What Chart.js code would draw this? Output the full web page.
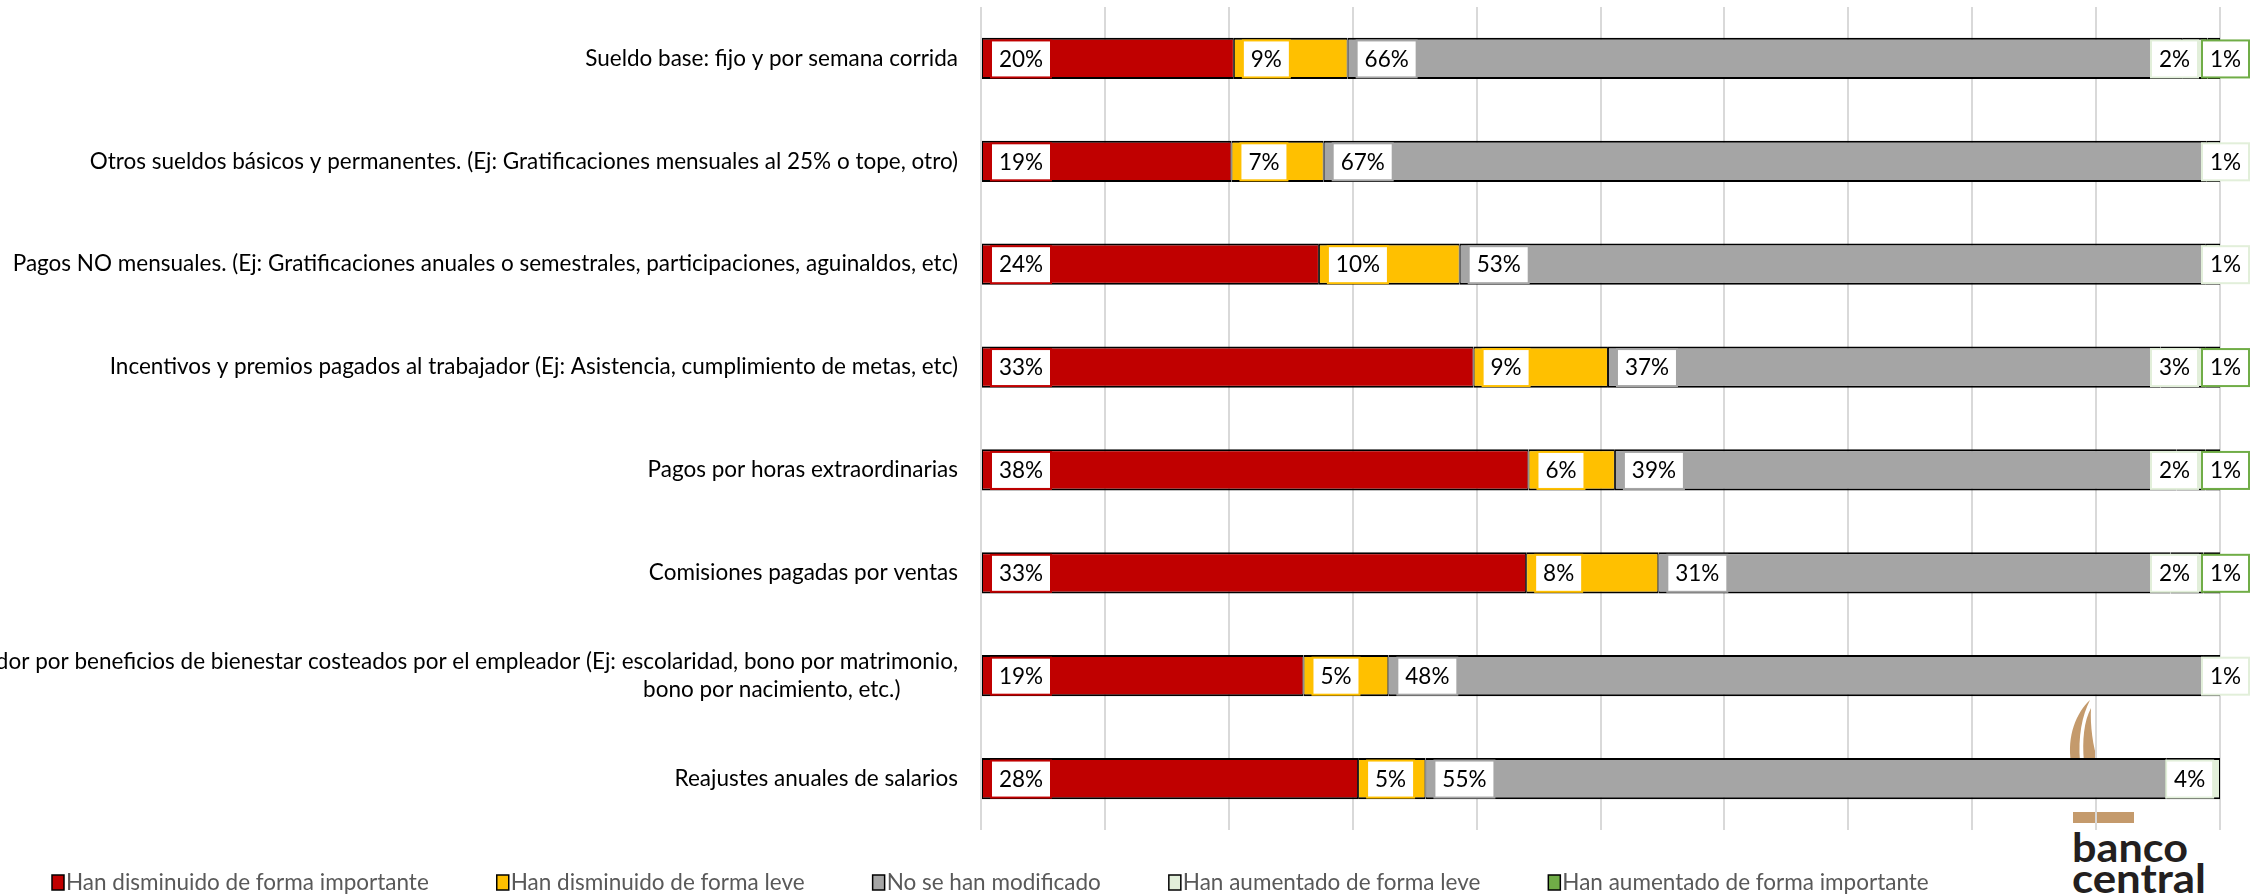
<!DOCTYPE html>
<html lang="es">
<head>
<meta charset="utf-8">
<title>Cambios en las remuneraciones</title>
<script src="https://cdn.jsdelivr.net/npm/chart.js@4.4.1/dist/chart.umd.min.js"></script>
<style>
  html, body { margin: 0; padding: 0; background: #fff; }
  #wrap { position: relative; width: 2250px; height: 894px; overflow: hidden; }
  #logo { position: absolute; left: 0; top: 0; z-index: 0; }
  #chart { position: absolute; left: 0; top: 0; z-index: 1; }
</style>
</head>
<body>
<div id="wrap">
  <!-- logo sits behind the canvas, like in the original slide -->
  <svg id="logo" width="2250" height="894">
    <path d="M2071,762 C2067,736 2076,713 2090,700 C2082,716 2078,736 2080,762 Z" fill="#C49A6C"/>
    <path d="M2084,762 C2082,740 2084,721 2091,708 C2090,726 2093,746 2098,762 Z" fill="#C49A6C"/>
    <rect x="2073" y="812" width="61" height="11" fill="#C49A6C"/>
    <text x="2072" y="862" font-family="Lato" font-weight="700" font-size="40" fill="#231F20" textLength="116" lengthAdjust="spacingAndGlyphs">banco</text>
    <text x="2072" y="893" font-family="Lato" font-weight="700" font-size="40" fill="#231F20" textLength="134" lengthAdjust="spacingAndGlyphs">central</text>
  </svg>
  <canvas id="chart" width="2250" height="894"></canvas>
</div>
<script>
// Categories (top to bottom)
const categories = [
  "Sueldo base: fijo y por semana corrida",
  "Otros sueldos básicos y permanentes. (Ej: Gratificaciones mensuales al 25% o tope, otro)",
  "Pagos NO mensuales. (Ej: Gratificaciones anuales o semestrales, participaciones, aguinaldos, etc)",
  "Incentivos y premios pagados al trabajador (Ej: Asistencia, cumplimiento de metas, etc)",
  "Pagos por horas extraordinarias",
  "Comisiones pagadas por ventas",
  ["Pagos al trabajador por beneficios de bienestar costeados por el empleador (Ej: escolaridad, bono por matrimonio,",
   "bono por nacimiento, etc.)          "],
  "Reajustes anuales de salarios"
];

const seriesNames = [
  "Han disminuido de forma importante",
  "Han disminuido de forma leve",
  "No se han modificado",
  "Han aumentado de forma leve",
  "Han aumentado de forma importante"
];

// % of answers per category (as labelled)
const impDown  = [20, 19, 24, 33, 38, 33, 19, 28];
const leveDown = [9, 7, 10, 9, 6, 8, 5, 5];
const noChange = [66, 67, 53, 37, 39, 31, 48, 55];
const leveUp   = [2, 1, 1, 3, 2, 2, 1, 4];
const impUp    = [1, 0, 0, 1, 1, 1, 0, 0];

const colors = ["#C00000", "#FFC000", "#A5A5A5", "#E2EFDA", "#70AD47"];

const FONT_SIZE = 22.5;

const rawSeries = [impDown, leveDown, noChange, leveUp, impUp];

// the original is a 100% stacked bar: every row is scaled to its own total
const totals = categories.map((c, i) => rawSeries.reduce((s, arr) => s + arr[i], 0));

const datasets = rawSeries.map((arr, k) => ({
  label: seriesNames[k],
  data: arr.map((v, i) => (v ? v / totals[i] * 100 : null)),
  rawValues: arr,
  labelOffset: k < 3 ? 9 : 0,
  backgroundColor: colors[k],
  borderColor: "#000",
  borderWidth: { top: 2, bottom: 2, left: 1, right: 1 },
  borderSkipped: false,
  categoryPercentage: 1,
  barPercentage: 0.4
}));

// white boxed value labels at the base of each segment
const boxLabels = {
  id: "boxLabels",
  afterDatasetsDraw(chart) {
    const ctx = chart.ctx;
    ctx.save();
    ctx.font = FONT_SIZE + "px Lato";
    const rows = chart.data.labels.map(() => []);
    chart.data.datasets.forEach((ds, k) => {
      chart.getDatasetMeta(k).data.forEach((bar, i) => {
        const v = ds.rawValues[i];
        if (!v) return;
        const text = v + "%";
        const w = Math.round(ctx.measureText(text).width) + 16;
        rows[i].push({ text, w, x: Math.min(bar.base, bar.x) + ds.labelOffset, y: bar.y, color: ds.backgroundColor });
      });
    });
    rows.forEach(boxes => {
      // push boxes left when they would run into the next one / the edge
      let limit = chart.width - 1;
      for (let j = boxes.length - 1; j >= 0; j--) {
        const b = boxes[j];
        if (b.x + b.w > limit) b.x = limit - b.w;
        limit = b.x - 4;
      }
      boxes.forEach(b => {
        ctx.fillStyle = "#fff";
        ctx.fillRect(b.x, b.y - 18, b.w, 37);
        ctx.strokeStyle = b.color;
        ctx.lineWidth = 2;
        ctx.strokeRect(b.x, b.y - 18, b.w, 37);
        ctx.fillStyle = "#000";
        ctx.textAlign = "center";
        ctx.textBaseline = "middle";
        ctx.fillText(b.text, b.x + b.w / 2, b.y + 1);
      });
    });
    ctx.restore();
  }
};

// legend row under the plot
const bottomLegend = {
  id: "bottomLegend",
  afterDraw(chart) {
    const ctx = chart.ctx;
    ctx.save();
    ctx.font = FONT_SIZE + "px Lato";
    ctx.textBaseline = "middle";
    ctx.textAlign = "left";
    let x = 52;
    const y = 882;
    chart.data.datasets.forEach(ds => {
      ctx.fillStyle = ds.backgroundColor;
      ctx.fillRect(x, y - 7, 12, 15);
      ctx.strokeStyle = "#000";
      ctx.lineWidth = 1.5;
      ctx.strokeRect(x, y - 7, 12, 15);
      ctx.fillStyle = "#595959";
      ctx.fillText(ds.label, x + 14, y + 1);
      x += 14 + ctx.measureText(ds.label).width + 68;
    });
    ctx.restore();
  }
};

const ctx = document.getElementById("chart").getContext("2d");
new Chart(ctx, {
  type: "bar",
  data: { labels: categories, datasets: datasets },
  options: {
    indexAxis: "y",
    responsive: false,
    animation: false,
    layout: { padding: { top: 7, right: 30, bottom: 64, left: 0 } },
    scales: {
      x: {
        stacked: true,
        min: 0,
        max: 100,
        ticks: { display: false, stepSize: 10 },
        grid: { color: "#D9D9D9", lineWidth: 2, drawTicks: false },
        border: { display: false }
      },
      y: {
        stacked: true,
        grid: { display: false, drawTicks: false },
        border: { display: false },
        ticks: { color: "#000", padding: 23, font: { family: "Lato", size: FONT_SIZE, lineHeight: 1.25 } },
        afterFit(scale) {
          scale.width = 981;
          // keep the tick labels from pushing the plot down
          scale.paddingTop = 0;
          scale.paddingBottom = 0;
        }
      }
    },
    plugins: { legend: { display: false }, tooltip: { enabled: false } }
  },
  plugins: [boxLabels, bottomLegend]
});
</script>
</body>
</html>
